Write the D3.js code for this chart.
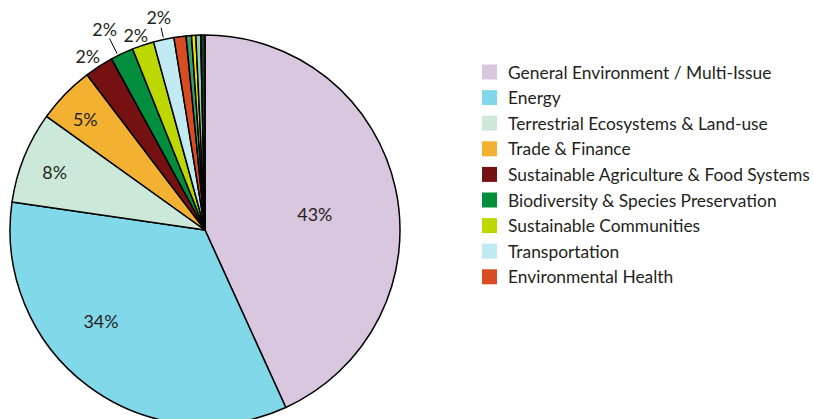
<!DOCTYPE html>
<html><head><meta charset="utf-8">
<script src="https://cdn.jsdelivr.net/npm/d3@7/dist/d3.min.js"></script>
<style>body{margin:0;background:#fff}svg{display:block}text{font-family:Lato,"Noto Sans",sans-serif;fill:#231f20}</style>
</head><body><svg id="c" width="813" height="419"></svg>
<script>
const categories = ["General Environment / Multi-Issue","Energy","Terrestrial Ecosystems & Land-use","Trade & Finance","Sustainable Agriculture & Food Systems","Biodiversity & Species Preservation","Sustainable Communities","Transportation","Environmental Health","Other A","Other B","Other C","Other D"];
const values = [43.2,34.1,7.6,4.75,2.4,1.9,1.8,1.7,1.0,0.45,0.35,0.4,0.35];
const labels = ["43%","34%","8%","5%","2%","2%","2%","2%","","","","",""];
const colors = ["#d9c7df","#80d8e9","#cce8d8","#f2b131","#761111","#008d3c","#bdd800","#c1eaf3","#d94b21","#3a9d6b","#f4e200","#93cfb3","#1a3a2a"];
const legendCount = 9;

const svg = d3.select("#c");
const cx = 205, cy = 230, R = 195;
const g = svg.append("g").attr("transform",`translate(${cx},${cy})`);
const pie = d3.pie().sort(null).value(d=>d);
const arcs = pie(values);
const arc = d3.arc().innerRadius(0).outerRadius(R);
g.selectAll("path").data(arcs).join("path")
  .attr("d",arc).attr("fill",(d,i)=>colors[i])
  .attr("stroke","#000").attr("stroke-width",1.5).attr("stroke-linejoin","round");

// measure font size to fit reference widths
function fitSize(str, target, base){
  const t = svg.append("text").attr("font-size",base).text(str);
  const w = t.node().getComputedTextLength(); t.remove();
  return base*target/w;
}
const pieFont = fitSize("43%", 35, 16);
const legFont = fitSize("Sustainable Agriculture & Food Systems", 302, 16);

// label placement: [radius, angle offset (deg), leader]
const place = [[111,4,false],[138,12,false],[161,-1,false],[163,-1.5,false],[210,-1,false],[225,-1.3,true],[207,-1,false],[218,0,true]];
arcs.forEach((a,i)=>{
  if(!labels[i]) return;
  const [r,off,lead] = place[i];
  const ang = (a.startAngle+a.endAngle)/2 + off*Math.PI/180;
  const x = r*Math.sin(ang), y = -r*Math.cos(ang);
  if(lead){
    const r1 = R+2, r2 = r-11;
    g.append("line").attr("x1",r1*Math.sin(ang)).attr("y1",-r1*Math.cos(ang))
      .attr("x2",r2*Math.sin(ang)).attr("y2",-r2*Math.cos(ang))
      .attr("stroke","#000").attr("stroke-width",1);
  }
  g.append("text").attr("x",x).attr("y",y).attr("text-anchor","middle")
   .attr("dominant-baseline","central").attr("font-size",pieFont).text(labels[i]);
});

const lg = svg.append("g").attr("transform","translate(482,72)");
const rows = lg.selectAll("g").data(categories.slice(0,legendCount)).join("g")
  .attr("transform",(d,i)=>`translate(0,${i*25.6})`);
rows.append("rect").attr("x",0).attr("y",-7.5).attr("width",15).attr("height",15).attr("fill",(d,i)=>colors[i]);
rows.append("text").attr("x",26).attr("y",0).attr("dominant-baseline","central").attr("font-size",legFont).text(d=>d);
</script></body></html>
